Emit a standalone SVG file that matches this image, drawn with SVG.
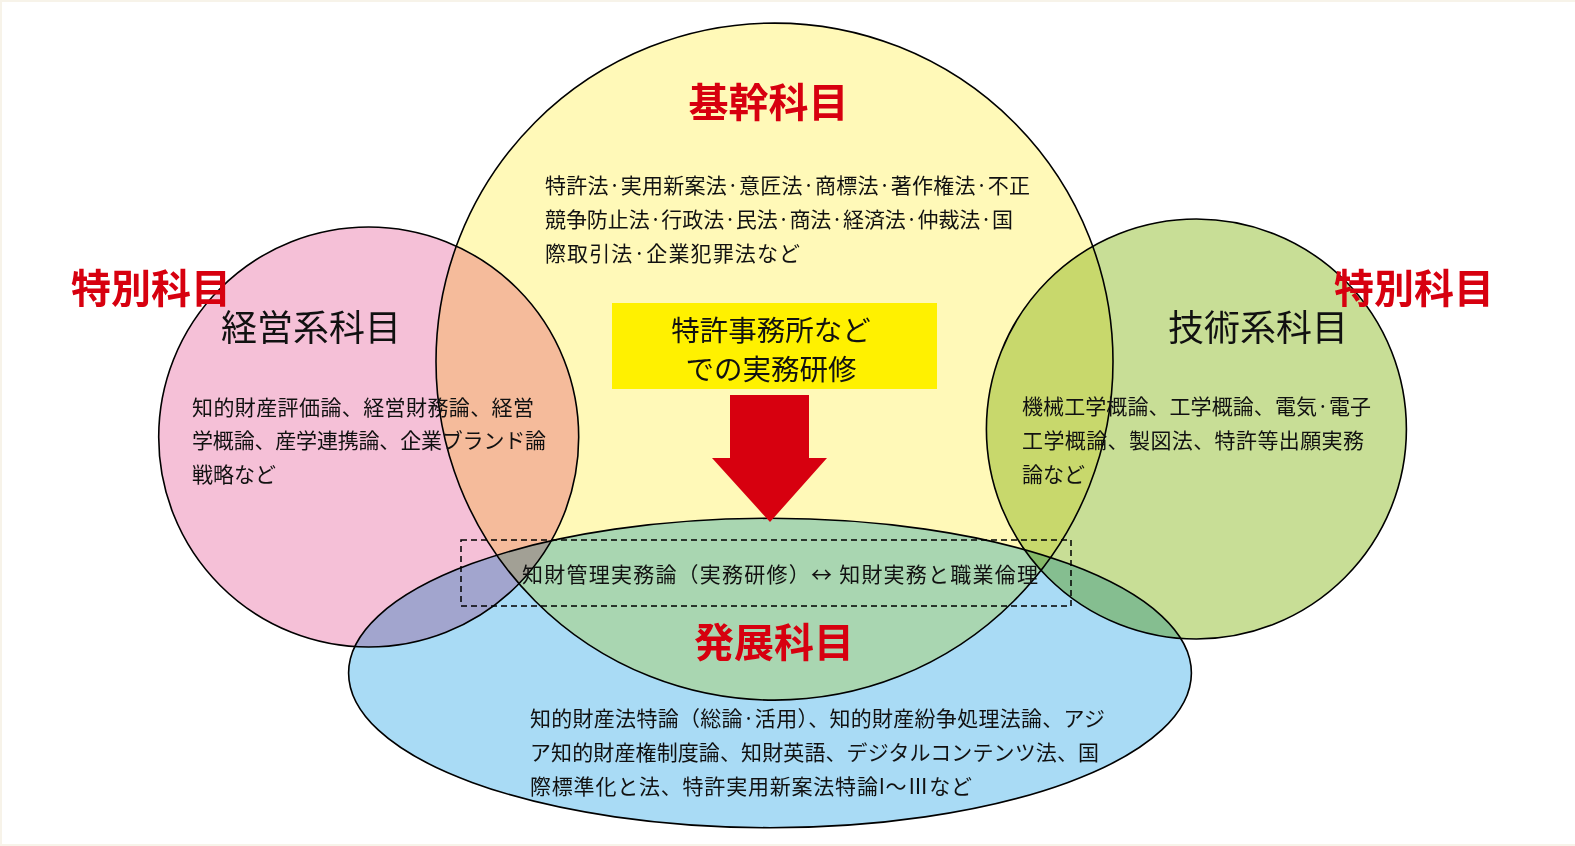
<svg xmlns="http://www.w3.org/2000/svg" width="1575" height="846" viewBox="0 0 1575 846">
<style>
.c{stroke:#000;stroke-width:1.6;mix-blend-mode:multiply}
.t{font-family:"Noto Sans CJK JP","Noto Sans",sans-serif;fill:#111}
.b{font-size:21px}
.h{font-size:36px}
.r{font-family:"Noto Sans CJK JP","Noto Sans",sans-serif;fill:#d7000f;font-weight:bold;font-size:40px}
</style>
<rect x="0" y="0" width="1575" height="846" fill="#f7f3e9"/>
<rect x="2" y="2" width="1573" height="842" fill="#ffffff"/>
<g id="shapes" style="isolation:isolate">
<circle id="keiei" class="c" cx="368.7" cy="437" r="210" fill="#f5c0d7"/>
<circle id="gijutsu" class="c" cx="1196.4" cy="429" r="210" fill="#c8de96"/>
<circle id="kikan" class="c" cx="774.5" cy="361.6" r="338.5" fill="#fff9b8"/>
<ellipse id="hatten" class="c" cx="770" cy="673" rx="421.4" ry="154.7" fill="#a9dbf5"/>
</g>
<g id="connectors">
<rect x="461" y="540" width="610" height="66" fill="none" stroke="#000" stroke-width="1.5" stroke-dasharray="6 4"/>
<polygon points="730,395 809,395 809,458 827,458 770,522 712,458 730,458" fill="#d7000f"/>
</g>
<g id="node-kikan">
<text class="r" x="768.5" y="117" text-anchor="middle">基幹科目</text>
<text class="t b" x="545" y="193" textLength="485">特許法·実用新案法·意匠法·商標法·著作権法·不正</text>
<text class="t b" x="545" y="227" textLength="468">競争防止法·行政法·民法·商法·経済法·仲裁法·国</text>
<text class="t b" x="545" y="261" textLength="255">際取引法·企業犯罪法など</text>
</g>
<g id="node-keiei">
<text class="r" x="151" y="303" text-anchor="middle">特別科目</text>
<text class="t h" x="311" y="341" text-anchor="middle">経営系科目</text>
<text class="t b" x="192" y="415" textLength="342">知的財産評価論、経営財務論、経営</text>
<text class="t b" x="192" y="448" textLength="354">学概論、産学連携論、企業ブランド論</text>
<text class="t b" x="192" y="482">戦略など</text>
</g>
<g id="node-gijutsu">
<text class="r" x="1414" y="303" text-anchor="middle">特別科目</text>
<text class="t h" x="1258" y="341" text-anchor="middle">技術系科目</text>
<text class="t b" x="1022" y="414" textLength="349">機械工学概論、工学概論、電気·電子</text>
<text class="t b" x="1022" y="448" textLength="342">工学概論、製図法、特許等出願実務</text>
<text class="t b" x="1022" y="482">論など</text>
</g>
<g id="node-jitsumu">
<rect x="612" y="303" width="325" height="86" fill="#fff100"/>
<text class="t" x="771" y="341" text-anchor="middle" font-size="28.5">特許事務所など</text>
<text class="t" x="771" y="380" text-anchor="middle" font-size="28.5">での実務研修</text>
</g>
<g id="node-bridge">
<text class="t b" x="522" y="582" textLength="516">知財管理実務論（実務研修）↔ 知財実務と職業倫理</text>
</g>
<g id="node-hatten">
<text class="r" x="774" y="657" text-anchor="middle">発展科目</text>
<text class="t b" x="530" y="726" textLength="575">知的財産法特論（総論·活用）、知的財産紛争処理法論、アジ</text>
<text class="t b" x="530" y="760" textLength="569">ア知的財産権制度論、知財英語、デジタルコンテンツ法、国</text>
<text class="t b" x="530" y="794" textLength="442">際標準化と法、特許実用新案法特論I〜Ⅲなど</text>
</g>
</svg>
